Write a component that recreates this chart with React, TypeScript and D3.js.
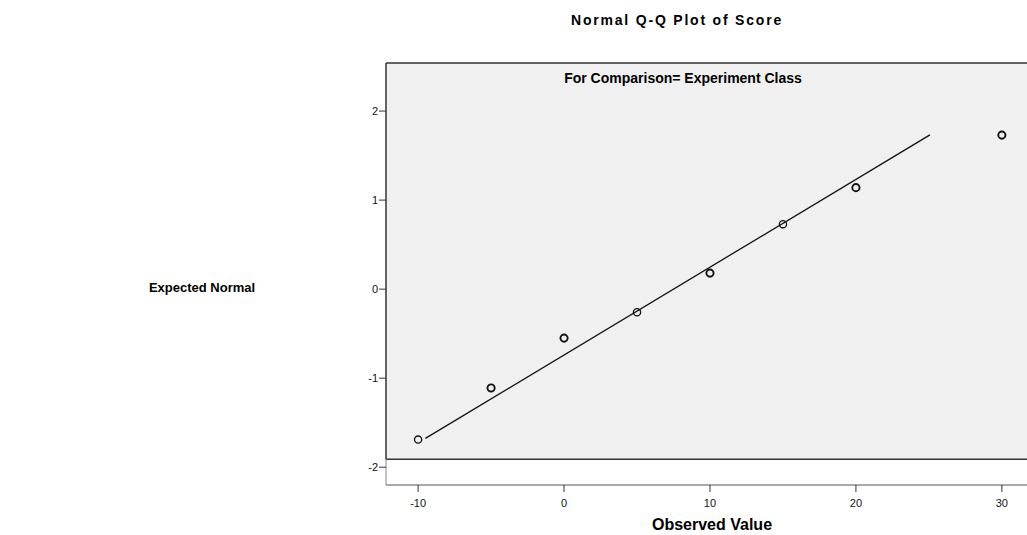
import React from 'react'
import * as d3 from 'd3'

// observed scores and their expected normal quantiles
const observed = [-10, -5, 0, 5, 10, 15, 20, 30]
const expected = [-1.69, -1.11, -0.55, -0.26, 0.18, 0.73, 1.14, 1.73]
const cases = [1, 2, 2, 1, 2, 1, 2, 2]

const xTicks = [-10, 0, 10, 20, 30]
const yTicks = [-2, -1, 0, 1, 2]

// reference line (mean / sd of the scores)
const lineMean = 7.5
const lineSd = 10.14
const lineFrom = -9.5
const lineTo = 25.07

const font = "'Liberation Sans', Arial, sans-serif"

export default function App() {
  const width = 1027
  const height = 535
  const left = 386
  const top = 63

  const x = d3.scaleLinear().domain([-12.2, 32.75]).range([left, 1042])
  const y = d3.scaleLinear().domain([-2.2, 2.54]).range([485, top])
  const shadeBottom = y(-1.91)

  const refLine = d3.line<number>()
    .x(d => x(d))
    .y(d => y((d - lineMean) / lineSd))

  return (
    <svg width={width} height={height}
      style={{ position: 'absolute', left: 0, top: 0, background: '#fff' }}
      fontFamily={font}>
      <text x={677} y={25} textAnchor="middle" fontSize={14} fontWeight="bold"
        letterSpacing={1.8} fill="#000">Normal Q-Q Plot of Score</text>

      {/* plot frame */}
      <rect x={left} y={top} width={width} height={shadeBottom - top} fill="#f0f0f0" />
      <line x1={left} x2={width} y1={top} y2={top} stroke="#333" strokeWidth={1.5} />
      <line x1={left} x2={width} y1={shadeBottom} y2={shadeBottom} stroke="#333" strokeWidth={1.5} />
      <line x1={left} x2={left} y1={top} y2={shadeBottom} stroke="#333" strokeWidth={1.5} />
      <line x1={left} x2={left} y1={shadeBottom} y2={485} stroke="#888" strokeWidth={1} />
      <line x1={left} x2={width} y1={485} y2={485} stroke="#555" strokeWidth={1} />

      <text x={683} y={83} textAnchor="middle" fontSize={14} fontWeight="bold" fill="#000">
        For Comparison= Experiment Class
      </text>

      {/* y axis */}
      {yTicks.map(t => (
        <g key={'y' + t} transform={`translate(${left},${y(t)})`}>
          <line x1={-7} x2={0} stroke="#333" />
          <text x={-8} dy="0.35em" textAnchor="end" fontSize={11} fill="#111">{t}</text>
        </g>
      ))}

      {/* x axis */}
      {xTicks.map(t => (
        <g key={'x' + t} transform={`translate(${x(t)},485)`}>
          <line y1={0} y2={7} stroke="#333" />
          <text y={22} textAnchor="middle" fontSize={11} fill="#111">{t}</text>
        </g>
      ))}

      <text x={202} y={292} textAnchor="middle" fontSize={13} fontWeight="bold" fill="#000">
        Expected Normal
      </text>
      <text x={712} y={530} textAnchor="middle" fontSize={16} fontWeight="bold" fill="#000">
        Observed Value
      </text>

      <path d={refLine([lineFrom, lineTo]) ?? ''} fill="none" stroke="#111" strokeWidth={1.3} />

      {observed.map((v, i) => (
        <circle key={v} cx={x(v)} cy={y(expected[i])} r={3.6}
          fill="none" stroke="#111" strokeWidth={cases[i] > 1 ? 1.9 : 1.3} />
      ))}
    </svg>
  )
}
